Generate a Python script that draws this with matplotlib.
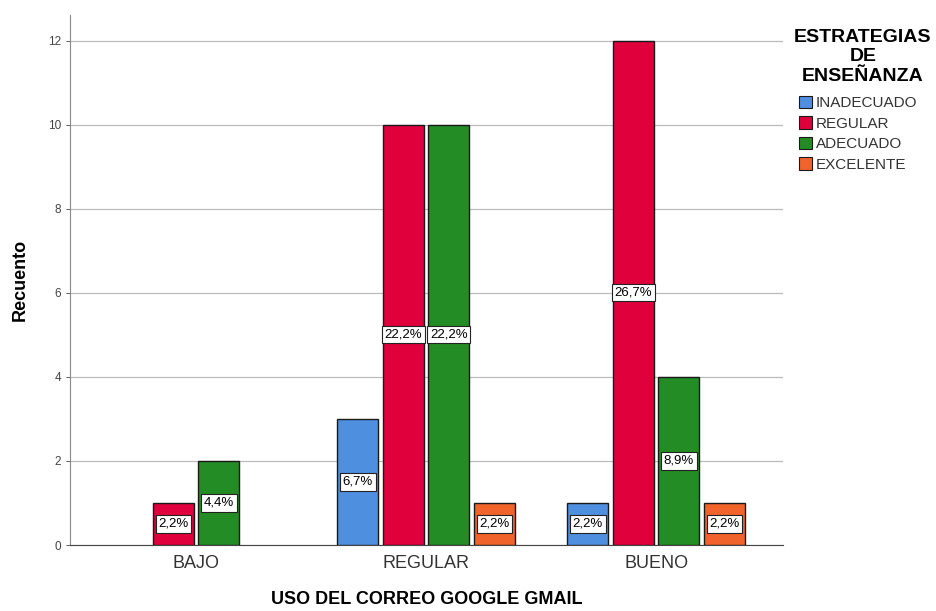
import numpy as np
import matplotlib.pyplot as plt
from matplotlib.patches import Patch

plt.rcParams['font.family'] = ['Liberation Sans', 'DejaVu Sans']

categories = ['BAJO', 'REGULAR', 'BUENO']
series = ['INADECUADO', 'REGULAR', 'ADECUADO', 'EXCELENTE']
counts = {
	'INADECUADO': [0, 3, 1],
	'REGULAR': [1, 10, 12],
	'ADECUADO': [2, 10, 4],
	'EXCELENTE': [0, 1, 1],
}
colors = ['#4F8FE0', '#E0003C', '#248C24', '#F0632A']
total = 45

fig = plt.figure(figsize=(9.37, 6.11), dpi=100)
ax = fig.add_axes([0.0747, 0.108, 0.761, 0.867])

x = np.arange(len(categories))
step = 0.198
width = 0.178

for i, (name, col) in enumerate(zip(series, colors)):
	vals = np.array(counts[name])
	pos = x + (i - 1.5) * step
	for p, v in zip(pos, vals):
		if v == 0:
			continue
		ax.bar(p, v, width=width, color=col, edgecolor='#1a1a1a', linewidth=1.0, zorder=3)
		pct = v / total * 100
		ax.text(p, v / 2, f'{pct:.1f}%'.replace('.', ','),
				ha='center', va='center', fontsize=9.5, color='black', zorder=4,
				bbox=dict(boxstyle='square,pad=0.2', fc='white', ec='#222222', lw=0.8))

ax.set_xlim(-0.548, 2.552)
ax.set_ylim(0, 12.6)
ax.set_yticks([0, 2, 4, 6, 8, 10, 12])
ax.set_xticks(x)
ax.set_xticklabels(categories, fontsize=13, color='#333333')
ax.tick_params(axis='y', labelsize=8.5, colors='#444444', length=3, width=0.6)
ax.tick_params(axis='x', length=0, pad=7)
ax.yaxis.grid(True, color='#bbbbbb', linewidth=0.9, zorder=0)
ax.set_axisbelow(True)
for s in ['top', 'right']:
	ax.spines[s].set_visible(False)
ax.spines['left'].set_color('#888888')
ax.spines['bottom'].set_color('#444444')

ax.set_ylabel('Recuento', fontsize=13, fontweight='bold', labelpad=14)
ax.set_xlabel('USO DEL CORREO GOOGLE GMAIL', fontsize=13, fontweight='bold', labelpad=14)

# legend title drawn separately to control spacing
fig.text(0.921, 0.907, 'ESTRATEGIAS\nDE\nENSEÑANZA', ha='center', va='center',
		 multialignment='center', fontsize=14, fontweight='bold')

handles = [Patch(facecolor=c, edgecolor='#1a1a1a', linewidth=0.8) for c in colors]
leg = fig.legend(handles, series,
				 loc='upper left', bbox_to_anchor=(0.853, 0.843), frameon=False,
				 fontsize=11, handlelength=0.85, handleheight=0.85,
				 handletextpad=0.25, labelspacing=0.4, borderpad=0, borderaxespad=0)
for t in leg.get_texts():
	t.set_color('#333333')

fig.savefig('out.png', dpi=100)
